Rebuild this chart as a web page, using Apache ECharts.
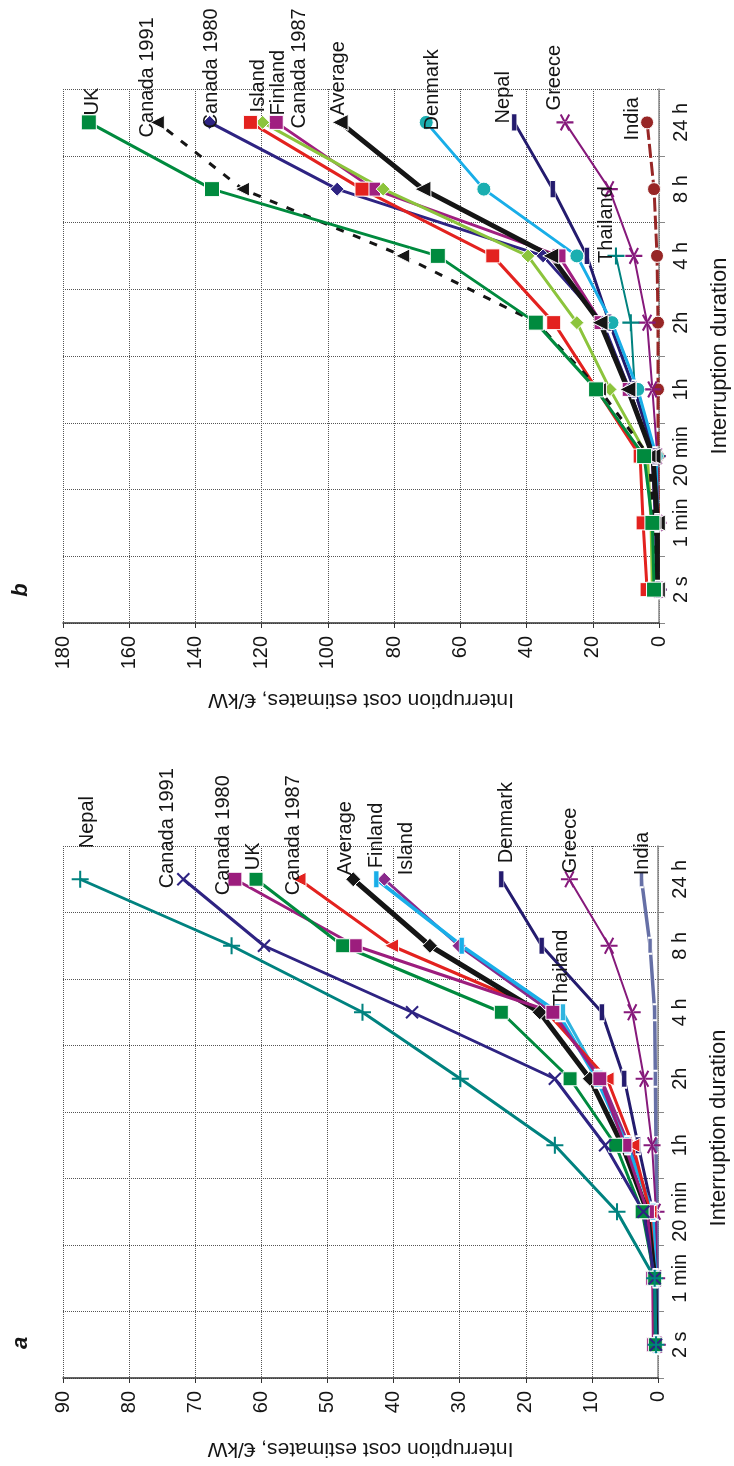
<!DOCTYPE html>
<html>
<head>
<meta charset="utf-8">
<script src="https://cdn.jsdelivr.net/npm/echarts/dist/echarts.min.js"></script>
<style>
  html, body { margin: 0; padding: 0; background: #fff; }
  #container { width: 734px; height: 1466px; }
</style>
</head>
<body>
<div id="container"></div>
<script>
// categories (bottom -> top on the page)
const categories = ['2 s', '1 min', '20 min', '1h', '2h', '4 h', '8 h', '24 h'];

// panel a, €/kW
const aNepal      = [0.3, 0.5, 6.2, 15.6, 29.9, 44.7, 64.5, 87.4];
const aCanada1991 = [0.3, 0.5, 2.2, 8.0, 15.6, 37.2, 59.6, 71.8];
const aCanada1980 = [0.7, 0.8, 1.6, 5.0, 8.8, 15.9, 45.8, 64.0];
const aUK         = [0.4, 0.5, 2.4, 6.4, 13.3, 23.7, 47.7, 60.8];
const aCanada1987 = [0.3, 0.5, 1.2, 3.8, 7.7, 16.8, 40.3, 54.3];
const aAverage    = [0.3, 0.5, 1.6, 5.4, 10.3, 17.9, 34.5, 46.1];
const aFinland    = [0.3, 0.4, 0.8, 4.7, 9.3, 15.2, 29.7, 42.6];
const aIsland     = [0.4, 0.5, 0.8, 4.4, 8.6, 16.1, 30.1, 41.4];
const aDenmark    = [0.2, 0.3, 0.8, 3.0, 5.1, 8.5, 17.6, 23.7];
const aGreece     = [0.1, 0.2, 0.3, 0.9, 2.1, 3.9, 7.4, 13.4];
const aIndia      = [0.1, 0.1, 0.2, 0.3, 0.4, 0.5, 1.2, 2.5];
const aThailand   = [0.3, 0.4, 0.8, 4.5, 8.8, 14.4, null, null];

// panel b, €/kW
const bUK         = [1.5, 2.0, 4.5, 19.0, 37.2, 66.8, 135.0, 172.2];
const bCanada1991 = [1.0, 1.5, 3.0, 18.0, 37.0, 77.4, 125.8, 151.5];
const bCanada1980 = [0.8, 1.0, 2.0, 9.0, 17.0, 35.0, 97.2, 135.7];
const bIsland     = [3.6, 4.8, 5.7, 18.8, 31.8, 50.2, 89.7, 123.4];
const bFinland    = [2.0, 2.4, 3.5, 14.8, 24.8, 39.6, 83.3, 119.7];
const bCanada1987 = [0.8, 1.0, 2.0, 9.0, 17.5, 30.2, 86.2, 115.6];
const bAverage    = [0.5, 0.5, 1.8, 9.4, 17.8, 32.7, 71.3, 96.3];
const bDenmark    = [0.4, 0.5, 0.8, 6.4, 14.2, 24.8, 52.9, 70.3];
const bNepal      = [0.4, 0.6, 1.2, 7.5, 15.0, 21.8, 32.1, 43.7];
const bGreece     = [0.2, 0.3, 0.5, 2.0, 3.6, 7.6, 15.0, 28.4];
const bIndia      = [0.2, 0.2, 0.3, 0.3, 0.3, 0.6, 1.5, 3.6];
const bThailand   = [0.4, 0.5, 0.8, 7.3, 8.5, 13.0, null, null];

const maxA = 90, stepA = 10;
const maxB = 180, stepB = 20;

const PLUS = 'path://M8.8,0H11.2V20H8.8Z M0,8.8H20V11.2H0Z';
const STAR = 'path://M0,8.8H20V11.2H0Z M13.96,19.26L16.04,18.06L6.04,0.74L3.96,1.94Z M3.96,18.06L6.04,19.26L16.04,1.94L13.96,0.74Z';
const FONT = 'Liberation Sans';

var myChart = echarts.init(document.getElementById('container'));

// off = label start relative to the marker, in page pixels (x right, y down)
const mkSeries = (gi, s) => {
  let last = -1;
  s.data.forEach((v, i) => { if (v != null) last = i; });
  const data = s.data.map((v, i) => {
    if (i !== last) return v;
    return {
      value: v,
      label: {
        show: true,
        position: 'inside',
        // label is rotated 90°, so its offset is given in the rotated frame
        offset: [-s.off[1], s.off[0]],
        rotate: 90,
        align: 'left',
        verticalAlign: 'middle',
        fontSize: 20,
        fontFamily: FONT,
        color: '#151515',
        formatter: s.name
      }
    };
  });
  return {
    name: s.name,
    type: 'line',
    xAxisIndex: gi,
    yAxisIndex: gi,
    data: data,
    symbol: s.symbol,
    symbolSize: s.size,
    symbolRotate: s.rot || 0,
    showAllSymbol: true,
    connectNulls: false,
    lineStyle: { color: s.color, width: s.width, type: s.dash || 'solid' },
    itemStyle: {
      color: s.mcolor || s.color,
      borderColor: '#fff',
      borderWidth: s.symbol.indexOf('path') === 0 ? 0 : 1
    },
    emphasis: { disabled: true },
    z: s.z || 2
  };
};

const specA = [
  { name: 'India', data: aIndia, color: '#6670a6', symbol: 'rect', size: [4, 16], width: 3.5, off: [1, -4] },
  { name: 'Greece', data: aGreece, color: '#86197b', symbol: STAR, size: 17, width: 2, off: [1, -6] },
  { name: 'Denmark', data: aDenmark, color: '#241b6e', symbol: 'rect', size: [5, 18], width: 3, off: [5, -16] },
  { name: 'Thailand', data: aThailand, color: '#2fb4e0', symbol: 'rect', size: [5, 18], width: 3, off: [-1, -6] },
  { name: 'Island', data: aIsland, color: '#8a2a8c', symbol: 'diamond', size: 14, width: 3, off: [22, -4] },
  { name: 'Finland', data: aFinland, color: '#19aee8', symbol: 'rect', size: [5, 18], width: 3.5, off: [0, -11] },
  { name: 'Canada 1987', data: aCanada1987, color: '#e3221f', symbol: 'triangle', rot: 90, size: 14, width: 3, off: [-6, 16] },
  { name: 'Average', data: aAverage, color: '#151515', symbol: 'diamond', size: 15, width: 5, off: [-8, -4] },
  { name: 'Canada 1980', data: aCanada1980, color: '#9c1d7d', symbol: 'rect', size: 14, width: 3, off: [-11, 16] },
  { name: 'UK', data: aUK, color: '#008a3e', symbol: 'rect', size: 14, width: 3, off: [-3, -9] },
  { name: 'Canada 1991', data: aCanada1991, color: '#2e2382', symbol: PLUS, rot: 45, size: 17, width: 3, off: [-16, 9] },
  { name: 'Nepal', data: aNepal, color: '#00827f', symbol: PLUS, size: 17, width: 3, off: [7, -31] }
];

const specB = [
  { name: 'India', data: bIndia, color: '#972626', symbol: 'circle', size: 13, width: 3, dash: [14, 4], off: [-15, 18] },
  { name: 'Greece', data: bGreece, color: '#86197b', symbol: STAR, size: 17, width: 2, off: [-10, -12] },
  { name: 'Thailand', data: bThailand, color: '#00827f', symbol: PLUS, size: 17, width: 2, off: [-9, 7] },
  { name: 'Nepal', data: bNepal, color: '#241b6e', symbol: 'rect', size: [5, 18], width: 3, off: [-11, 1] },
  { name: 'Denmark', data: bDenmark, color: '#19aee8', mcolor: '#1aaeb0', symbol: 'circle', size: 14, width: 3, off: [6, 8] },
  { name: 'Canada 1987', data: bCanada1987, color: '#a01f80', symbol: 'rect', size: 14, width: 3, off: [23, 6] },
  { name: 'Canada 1980', data: bCanada1980, color: '#2e2382', symbol: 'diamond', size: 14, width: 3, off: [2, 6] },
  { name: 'Finland', data: bFinland, color: '#8cc43c', symbol: 'diamond', size: 14, width: 3, off: [16, -7] },
  { name: 'Island', data: bIsland, color: '#e3221f', symbol: 'rect', size: 14, width: 3, off: [8, -10] },
  { name: 'Average', data: bAverage, color: '#151515', symbol: 'triangle', rot: 90, size: 16, width: 5, off: [-2, -7] },
  { name: 'Canada 1991', data: bCanada1991, color: '#151515', symbol: 'triangle', rot: 90, size: 14, width: 3, dash: [8, 10], off: [-10, 15] },
  { name: 'UK', data: bUK, color: '#008a3e', symbol: 'rect', size: 15, width: 3, off: [4, -7] }
];

const valueAxis = (gi, max, step, gap) => ({
  type: 'value',
  gridIndex: gi,
  inverse: true,
  min: 0,
  max: max,
  interval: step,
  position: 'bottom',
  name: 'Interruption cost estimates, €/kW',
  nameLocation: 'middle',
  nameGap: gap,
  nameRotate: 180,
  nameTextStyle: { fontSize: 21, fontFamily: FONT, color: '#151515' },
  axisLine: { show: true, lineStyle: { color: '#333', width: 1.5 } },
  axisTick: { show: true, length: 5, lineStyle: { color: '#333' } },
  axisLabel: { rotate: 90, margin: 13, fontSize: 20, fontFamily: FONT, color: '#151515' },
  splitLine: { show: true, lineStyle: { type: 'dotted', color: '#555', width: 1 } }
});

const catAxis = (gi, pad) => ({
  type: 'category',
  gridIndex: gi,
  data: categories,
  position: 'right',
  boundaryGap: true,
  name: 'Interruption duration',
  nameLocation: 'middle',
  nameGap: 50,
  nameTextStyle: { fontSize: 22, fontFamily: FONT, color: '#151515', padding: pad },
  axisLine: { show: true, lineStyle: { color: '#888', width: 1.5 } },
  axisTick: { show: true, interval: 0, length: 6, lineStyle: { color: '#888' } },
  axisLabel: { interval: 0, rotate: 90, margin: 12, fontSize: 20, fontFamily: FONT, color: '#151515' },
  splitLine: { show: true, interval: 0, lineStyle: { type: 'dotted', color: '#555', width: 1 } }
});

const option = {
  backgroundColor: '#fff',
  animation: false,
  grid: [
    { left: 63, right: 75, top: 89, bottom: 843, outerBoundsMode: 'none' },
    { left: 63, right: 76, top: 846, bottom: 88, outerBoundsMode: 'none' }
  ],
  xAxis: [valueAxis(0, maxB, stepB, 66), valueAxis(1, maxA, stepA, 60)],
  yAxis: [catAxis(0, 0), catAxis(1, [0, 32, 0, 0])],
  graphic: [
    { type: 'text', x: 21, y: 590, rotation: Math.PI / 2,
      style: { text: 'b', font: 'italic bold 22px Liberation Sans', fill: '#151515', textAlign: 'center', textVerticalAlign: 'middle' } },
    { type: 'text', x: 21, y: 1343, rotation: Math.PI / 2,
      style: { text: 'a', font: 'italic bold 22px Liberation Sans', fill: '#151515', textAlign: 'center', textVerticalAlign: 'middle' } }
  ],
  series: specB.map(s => mkSeries(0, s)).concat(specA.map(s => mkSeries(1, s)))
};

myChart.setOption(option);
</script>
</body>
</html>
